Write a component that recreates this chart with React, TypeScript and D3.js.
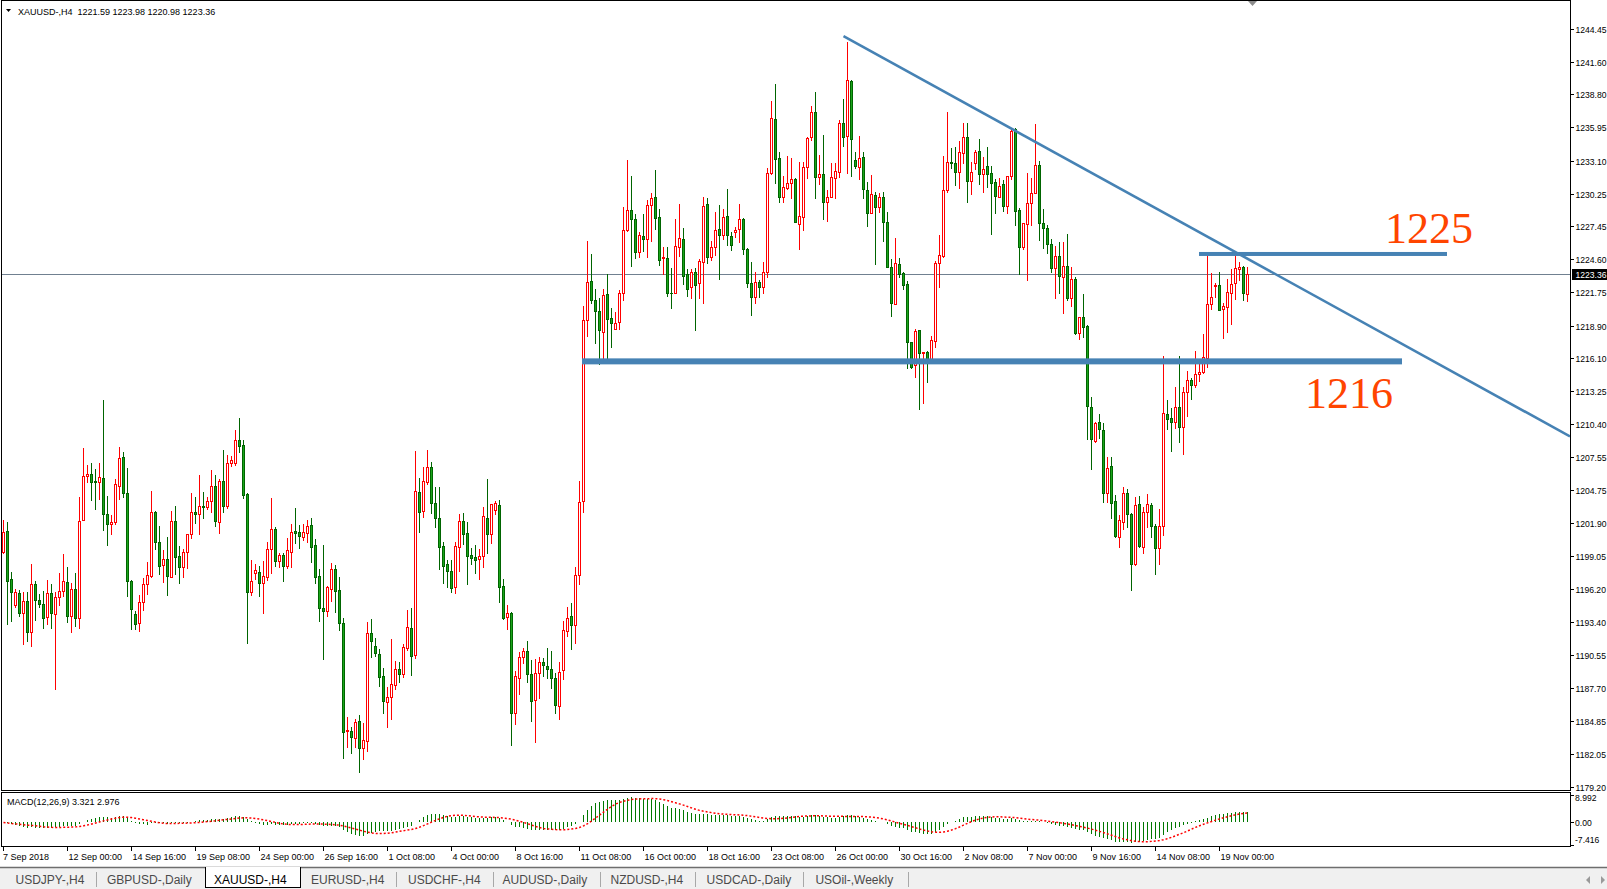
import React, { useEffect, useRef } from "react";
import * as d3 from "d3";

// XAUUSD H4 bars, 7 Sep 2018 08:00 .. 20 Nov 2018 04:00
const opens = [
  1199.45, 1201.23, 1197.07, 1194.86, 1195.87, 1194.2, 1195.21, 1192.57, 1196.67, 1195.29,
  1194.95, 1193.86, 1195.87, 1194.06, 1195.52, 1196.07, 1196.81, 1193.94, 1196.24, 1193.77,
  1202.15, 1205.99, 1206.1, 1205.53, 1205.42, 1205.76, 1202.69, 1201.8, 1201.97, 1205.13,
  1207.57, 1204.47, 1196.93, 1194.06, 1193.28, 1195.15, 1196.64, 1197.39, 1202.83, 1200.31,
  1198.3, 1198.79, 1197.3, 1202.09, 1199.08, 1198.16, 1199.39, 1200.94, 1202.83, 1202.69,
  1203.38, 1203.32, 1203.84, 1205.1, 1202.03, 1205.53, 1203.38, 1207.05, 1207.11, 1209.03,
  1208.63, 1204.41, 1196.01, 1197.64, 1197.73, 1196.78, 1197.3, 1199.65, 1201.37, 1198.68,
  1199.14, 1198.25, 1199.45, 1201.23, 1201.17, 1200.74, 1201.09, 1201.72, 1199.99, 1197.36,
  1194.58, 1194.38, 1196.27, 1197.93, 1196.15, 1193.34, 1184.02, 1184.02, 1183.39, 1184.88,
  1182.59, 1183.19, 1192.43, 1191.33, 1190.65, 1188.75, 1186.55, 1186.92, 1187.98, 1189.36,
  1188.9, 1191.13, 1192.86, 1190.56, 1204.61, 1202.98, 1205.47, 1206.71, 1203.61, 1202.32,
  1199.94, 1198.36, 1197.79, 1196.38, 1199.88, 1202.09, 1201.03, 1199.17, 1198.99, 1198.79,
  1199.08, 1202.32, 1200.94, 1203.01, 1203.47, 1196.5, 1193.8, 1194.17, 1185.6, 1188.56,
  1190.37, 1190.88, 1188.88, 1186.65, 1188.97, 1189.93, 1189.61, 1189.35, 1188.56, 1186.17,
  1189.29, 1192.63, 1193.87, 1193.11, 1197.41, 1203.84, 1219.37, 1222.71, 1221.12, 1220.13,
  1218.38, 1221.6, 1219.59, 1218.64, 1219.18, 1221.66, 1227.14, 1228.82, 1228.03, 1225.23,
  1226.6, 1226.37, 1229.24, 1229.94, 1228.25, 1224.68, 1224.68, 1221.72, 1221.66, 1225.7,
  1226.34, 1223.32, 1222.2, 1223.51, 1222.52, 1224.37, 1229.36, 1224.84, 1225.64, 1227.23,
  1226.66, 1228.34, 1226.6, 1226.98, 1227.17, 1228.09, 1225.48, 1222.52, 1221.34, 1222.62,
  1222.19, 1223.54, 1232.0, 1236.64, 1233.29, 1229.93, 1230.76, 1231.14, 1231.48, 1227.6,
  1228.27, 1232.57, 1235.15, 1237.3, 1231.71, 1231.94, 1229.56, 1229.99, 1231.57, 1232.14,
  1236.3, 1235.24, 1239.94, 1233.14, 1232.51, 1233.37, 1230.56, 1228.61, 1230.13, 1229.07,
  1229.93, 1227.78, 1223.97, 1220.75, 1224.17, 1223.39, 1222.45, 1217.5, 1215.51, 1218.52,
  1216.51, 1216.6, 1215.88, 1217.6, 1224.31, 1224.88, 1230.56, 1232.94, 1232.86, 1232.08,
  1233.72, 1235.1, 1231.37, 1232.86, 1233.92, 1231.91, 1232.63, 1231.99, 1231.28, 1229.99,
  1231.05, 1229.22, 1231.8, 1235.79, 1228.85, 1225.63, 1227.61, 1229.42, 1230.28, 1232.72,
  1227.7, 1227.27, 1225.89, 1223.88, 1224.92, 1223.11, 1224.03, 1221.25, 1222.88, 1218.23,
  1219.61, 1218.86, 1211.87, 1208.97, 1210.63, 1209.92, 1204.47, 1206.82, 1203.81, 1200.74,
  1201.97, 1204.47, 1202.66, 1198.36, 1203.52, 1199.82, 1202.89, 1203.46, 1201.66, 1199.73,
  1201.69, 1211.29, 1210.92, 1210.58, 1211.87, 1210.2, 1213.21, 1214.22, 1213.79, 1214.7,
  1214.88, 1216.08, 1220.73, 1222.31, 1222.39, 1220.3, 1220.53, 1221.73, 1222.54, 1223.74,
  1223.91, 1221.59,
];
const highs = [
  1202.17, 1201.97, 1197.67, 1196.24, 1196.15, 1195.95, 1195.95, 1198.39, 1196.93, 1195.81,
  1196.07, 1197.01, 1196.67, 1195.95, 1197.59, 1199.25, 1198.1, 1196.73, 1197.59, 1204.12,
  1208.34, 1206.91, 1207.05, 1206.56, 1207.05, 1212.5, 1204.24, 1202.6, 1205.7, 1208.48,
  1208.0, 1206.62, 1197.01, 1194.37, 1195.72, 1197.16, 1198.59, 1204.67, 1202.95, 1201.69,
  1199.59, 1200.74, 1202.95, 1203.41, 1199.97, 1199.65, 1200.94, 1204.53, 1204.18, 1206.05,
  1204.56, 1204.12, 1206.48, 1206.05, 1205.7, 1208.2, 1207.77, 1207.71, 1209.92, 1210.98,
  1209.06, 1204.47, 1198.73, 1198.39, 1198.22, 1198.65, 1200.25, 1204.04, 1201.6, 1199.31,
  1199.31, 1200.66, 1201.83, 1203.18, 1201.75, 1201.83, 1202.18, 1202.32, 1200.54, 1197.96,
  1200.03, 1196.53, 1198.51, 1198.31, 1197.3, 1193.77, 1185.2, 1184.39, 1185.03, 1185.4,
  1184.68, 1193.37, 1193.66, 1191.99, 1191.05, 1189.47, 1187.84, 1191.94, 1190.04, 1189.93,
  1191.48, 1194.43, 1194.63, 1208.11, 1205.82, 1206.77, 1208.2, 1207.17, 1204.99, 1204.99,
  1200.31, 1198.73, 1198.73, 1200.25, 1202.66, 1202.75, 1202.0, 1199.74, 1200.03, 1199.68,
  1203.27, 1205.7, 1203.55, 1203.81, 1203.9, 1197.1, 1194.86, 1194.29, 1189.2, 1190.85,
  1191.2, 1191.74, 1190.15, 1190.21, 1190.37, 1190.31, 1191.17, 1190.88, 1189.04, 1189.93,
  1193.49, 1194.7, 1194.99, 1198.11, 1205.52, 1220.55, 1226.18, 1225.07, 1222.04, 1221.25,
  1222.04, 1223.35, 1220.39, 1220.07, 1221.98, 1229.14, 1233.12, 1231.78, 1228.5, 1226.91,
  1228.5, 1229.68, 1230.32, 1232.32, 1228.92, 1225.64, 1225.64, 1223.89, 1228.03, 1229.36,
  1227.29, 1223.73, 1223.73, 1223.83, 1224.62, 1229.94, 1229.87, 1226.18, 1228.66, 1229.24,
  1228.92, 1230.67, 1226.91, 1227.39, 1229.36, 1228.19, 1225.58, 1224.37, 1223.51, 1222.82,
  1224.34, 1232.48, 1238.22, 1239.68, 1233.8, 1231.77, 1233.49, 1233.35, 1231.57, 1233.0,
  1232.94, 1235.15, 1237.82, 1239.02, 1233.57, 1235.3, 1230.56, 1232.91, 1232.86, 1236.59,
  1238.39, 1243.33, 1240.03, 1233.86, 1235.21, 1233.86, 1231.28, 1231.85, 1230.36, 1230.28,
  1230.36, 1228.7, 1224.6, 1226.4, 1224.68, 1223.48, 1222.76, 1217.5, 1218.6, 1218.52,
  1216.6, 1216.74, 1218.0, 1224.45, 1226.69, 1233.49, 1237.3, 1234.21, 1234.29, 1234.78,
  1236.3, 1236.3, 1233.0, 1234.01, 1234.95, 1233.37, 1234.29, 1232.6, 1231.48, 1231.57,
  1231.43, 1231.8, 1235.87, 1235.87, 1228.99, 1227.76, 1232.0, 1231.57, 1236.25, 1233.06,
  1228.93, 1227.56, 1226.35, 1225.78, 1226.06, 1226.12, 1226.75, 1223.97, 1223.05, 1219.67,
  1221.62, 1218.95, 1212.73, 1210.63, 1211.29, 1210.49, 1207.62, 1207.62, 1204.32, 1202.6,
  1205.04, 1204.84, 1202.75, 1204.18, 1204.27, 1203.32, 1204.38, 1203.61, 1201.8, 1203.12,
  1216.28, 1212.5, 1211.78, 1213.59, 1216.28, 1213.65, 1215.0, 1214.42, 1216.71, 1215.8,
  1218.18, 1225.2, 1223.4, 1222.59, 1223.48, 1220.87, 1222.91, 1223.77, 1225.06, 1224.34,
  1224.06, 1223.98,
];
const lows = [
  1199.31, 1193.23, 1193.51, 1194.72, 1193.94, 1191.51, 1191.79, 1191.36, 1193.57, 1194.72,
  1192.91, 1193.2, 1192.91, 1187.6, 1194.86, 1195.64, 1193.37, 1192.57, 1193.05, 1192.85,
  1202.15, 1205.47, 1203.9, 1203.12, 1203.98, 1201.31, 1200.02, 1200.97, 1201.83, 1203.98,
  1204.12, 1195.64, 1192.77, 1192.77, 1192.65, 1194.43, 1195.78, 1197.3, 1199.68, 1197.53,
  1196.87, 1195.72, 1197.3, 1197.53, 1196.78, 1197.3, 1198.07, 1200.66, 1201.95, 1200.97,
  1202.38, 1203.12, 1202.89, 1201.69, 1201.08, 1202.89, 1203.24, 1206.82, 1206.91, 1208.05,
  1204.04, 1191.62, 1195.72, 1197.07, 1195.66, 1194.2, 1197.01, 1197.65, 1198.22, 1198.16,
  1196.96, 1198.08, 1198.16, 1200.17, 1199.8, 1200.46, 1200.25, 1198.59, 1196.78, 1193.52,
  1190.22, 1193.95, 1195.21, 1194.29, 1192.71, 1181.67, 1182.67, 1182.16, 1182.67, 1180.52,
  1181.58, 1182.33, 1190.42, 1190.5, 1187.89, 1185.6, 1184.39, 1185.03, 1187.61, 1188.21,
  1188.64, 1190.99, 1188.84, 1190.27, 1201.17, 1202.46, 1205.27, 1202.75, 1201.6, 1197.93,
  1196.78, 1196.44, 1195.95, 1195.87, 1197.82, 1200.11, 1196.64, 1198.36, 1197.65, 1197.07,
  1198.1, 1199.37, 1200.17, 1202.66, 1195.15, 1193.66, 1192.77, 1182.82, 1184.6, 1187.22,
  1189.9, 1188.24, 1184.9, 1183.1, 1186.87, 1188.72, 1188.56, 1187.76, 1185.53, 1185.06,
  1188.46, 1192.22, 1191.11, 1191.58, 1196.67, 1202.82, 1218.0, 1220.87, 1217.43, 1215.61,
  1216.09, 1216.09, 1217.05, 1218.64, 1218.64, 1221.09, 1227.07, 1224.05, 1224.75, 1224.84,
  1225.32, 1224.84, 1226.21, 1227.23, 1224.11, 1223.32, 1221.44, 1220.45, 1221.66, 1224.91,
  1222.46, 1221.41, 1221.28, 1218.48, 1221.25, 1220.87, 1224.27, 1224.5, 1225.0, 1222.93,
  1226.37, 1225.8, 1225.38, 1226.5, 1226.05, 1225.1, 1222.2, 1219.85, 1220.87, 1221.39,
  1221.73, 1223.11, 1231.94, 1231.2, 1229.56, 1229.56, 1230.65, 1229.9, 1227.84, 1225.49,
  1227.12, 1231.62, 1234.87, 1229.9, 1231.05, 1228.07, 1227.92, 1229.93, 1229.9, 1231.71,
  1234.38, 1232.0, 1231.8, 1232.48, 1231.48, 1229.9, 1227.5, 1228.61, 1224.17, 1228.64,
  1226.2, 1223.91, 1219.75, 1220.75, 1223.05, 1222.05, 1215.28, 1215.28, 1214.5, 1211.72,
  1212.26, 1214.07, 1215.8, 1217.08, 1222.25, 1224.83, 1230.42, 1232.43, 1230.99, 1230.76,
  1232.86, 1229.56, 1230.19, 1232.34, 1231.08, 1230.42, 1230.85, 1226.75, 1228.61, 1229.93,
  1228.76, 1228.56, 1231.51, 1227.56, 1223.31, 1225.46, 1222.82, 1227.56, 1230.28, 1226.26,
  1225.6, 1225.12, 1223.48, 1221.3, 1221.73, 1219.95, 1221.1, 1220.62, 1218.18, 1217.72,
  1217.95, 1209.11, 1206.53, 1208.86, 1209.2, 1203.75, 1203.75, 1202.32, 1200.74, 1199.82,
  1201.37, 1201.6, 1196.15, 1198.3, 1199.82, 1199.31, 1201.6, 1200.74, 1197.5, 1198.36,
  1200.88, 1210.0, 1208.14, 1210.06, 1208.91, 1207.82, 1211.15, 1212.56, 1213.65, 1214.16,
  1214.8, 1215.37, 1220.33, 1221.39, 1220.24, 1217.86, 1218.38, 1219.01, 1221.16, 1222.82,
  1221.1, 1220.98,
];
const closes = [
  1201.17, 1196.95, 1195.95, 1195.95, 1194.2, 1195.21, 1192.57, 1196.67, 1195.29, 1194.92,
  1193.77, 1195.87, 1194.14, 1195.52, 1196.07, 1196.93, 1193.94, 1196.24, 1193.77, 1202.09,
  1205.99, 1206.1, 1205.47, 1205.42, 1205.85, 1202.69, 1201.8, 1201.97, 1205.24, 1207.48,
  1204.47, 1196.95, 1194.49, 1193.2, 1195.09, 1196.64, 1197.44, 1202.83, 1200.31, 1198.25,
  1198.79, 1197.39, 1202.09, 1199.02, 1198.16, 1199.39, 1200.94, 1202.83, 1202.69, 1203.38,
  1203.32, 1203.81, 1205.1, 1202.12, 1205.56, 1203.41, 1207.05, 1207.34, 1209.03, 1208.57,
  1204.33, 1196.01, 1196.93, 1197.87, 1196.73, 1197.39, 1199.65, 1201.37, 1198.68, 1199.14,
  1198.25, 1199.57, 1201.17, 1201.09, 1200.8, 1201.12, 1201.66, 1199.88, 1197.3, 1194.58,
  1194.38, 1196.44, 1197.93, 1196.1, 1193.29, 1183.96, 1184.08, 1183.48, 1184.77, 1182.53,
  1183.25, 1192.43, 1191.79, 1190.76, 1188.7, 1186.63, 1186.92, 1188.07, 1189.36, 1188.9,
  1191.22, 1192.94, 1190.5, 1204.67, 1202.89, 1205.53, 1206.71, 1203.61, 1202.32, 1199.82,
  1198.25, 1197.79, 1196.3, 1199.94, 1202.09, 1200.94, 1199.11, 1198.94, 1198.73, 1199.08,
  1202.52, 1200.94, 1203.52, 1203.61, 1196.44, 1193.77, 1194.15, 1185.54, 1188.75, 1190.37,
  1190.88, 1188.88, 1186.58, 1188.97, 1189.93, 1189.67, 1189.35, 1188.62, 1186.23, 1189.13,
  1192.7, 1193.75, 1193.17, 1197.41, 1203.68, 1219.37, 1222.62, 1221.12, 1220.13, 1218.48,
  1221.5, 1219.5, 1219.11, 1219.11, 1221.66, 1227.14, 1228.82, 1228.03, 1225.23, 1226.66,
  1226.37, 1229.24, 1229.87, 1228.19, 1224.52, 1224.78, 1221.66, 1221.66, 1225.74, 1226.44,
  1223.19, 1222.07, 1223.51, 1222.36, 1224.46, 1229.2, 1224.84, 1225.7, 1227.14, 1226.66,
  1228.25, 1226.66, 1225.8, 1227.14, 1228.09, 1225.48, 1222.52, 1221.34, 1222.62, 1222.19,
  1223.48, 1232.0, 1236.73, 1233.2, 1229.93, 1230.85, 1231.14, 1231.48, 1227.84, 1228.33,
  1232.57, 1235.07, 1237.3, 1231.71, 1231.94, 1229.56, 1229.99, 1231.65, 1232.2, 1236.3,
  1235.15, 1240.03, 1234.92, 1232.63, 1233.35, 1230.62, 1228.61, 1230.22, 1229.07, 1229.99,
  1227.78, 1223.97, 1220.87, 1224.25, 1223.31, 1222.39, 1217.5, 1215.36, 1218.43, 1216.51,
  1216.6, 1215.88, 1217.66, 1224.25, 1224.97, 1230.56, 1233.0, 1232.86, 1232.14, 1233.8,
  1235.1, 1231.37, 1232.08, 1233.8, 1231.91, 1232.34, 1231.91, 1231.2, 1230.08, 1230.91,
  1229.22, 1231.8, 1235.64, 1228.79, 1225.63, 1227.7, 1229.42, 1230.28, 1232.72, 1227.7,
  1227.27, 1225.89, 1223.88, 1224.89, 1223.2, 1224.03, 1221.3, 1222.88, 1218.29, 1219.61,
  1218.81, 1212.01, 1209.11, 1210.55, 1209.97, 1204.52, 1206.62, 1203.61, 1200.8, 1202.17,
  1204.47, 1202.66, 1198.36, 1203.46, 1199.96, 1202.83, 1203.52, 1201.69, 1199.73, 1201.66,
  1211.35, 1210.83, 1210.58, 1211.87, 1210.2, 1213.21, 1214.22, 1213.79, 1214.7, 1214.94,
  1216.17, 1220.73, 1221.33, 1222.39, 1220.24, 1220.59, 1221.76, 1222.48, 1223.83, 1223.91,
  1221.68, 1223.36,
];

const timeLabels = [
  "7 Sep 2018", "12 Sep 00:00", "14 Sep 16:00", "19 Sep 08:00", "24 Sep 00:00",
  "26 Sep 16:00", "1 Oct 08:00", "4 Oct 00:00", "8 Oct 16:00", "11 Oct 08:00",
  "16 Oct 00:00", "18 Oct 16:00", "23 Oct 08:00", "26 Oct 00:00", "30 Oct 16:00",
  "2 Nov 08:00", "7 Nov 00:00", "9 Nov 16:00", "14 Nov 08:00", "19 Nov 00:00",
];
const timeLabelBars = [0, 16, 32, 48, 64, 80, 96, 112, 128, 144, 160, 176, 192, 208, 224, 240, 256, 272, 288, 304];

const priceTicks = [
  1244.45, 1241.6, 1238.8, 1235.95, 1233.1, 1230.25, 1227.45, 1224.6, 1221.75, 1218.9, 1216.1, 1213.25,
  1210.4, 1207.55, 1204.75, 1201.9, 1199.05, 1196.2, 1193.4, 1190.55, 1187.7, 1184.85, 1182.05, 1179.2,
];
const macdTicks = [8.992, 0, -7.416];
const macdTickLabels = ["8.992", "0.00", "-7.416"];

const bidPrice = 1223.36;
const levels = [
  { price: 1215.82, label: "1216" },
  { price: 1225.06, label: "1225" },
];
const trendPoints = [
  { bar: 210, price: 1243.8 },
  { bar: 311, price: 1224.65 },
];

const headerText = "XAUUSD-,H4  1221.59 1223.98 1220.98 1223.36";
const macdCaption = "MACD(12,26,9) 3.321 2.976";
const tabNames = [
  "USDJPY-,H4", "GBPUSD-,Daily", "XAUUSD-,H4", "EURUSD-,H4", "USDCHF-,H4",
  "AUDUSD-,Daily", "NZDUSD-,H4", "USDCAD-,Daily", "USOil-,Weekly",
];
const activeTab = "XAUUSD-,H4";

const W = 1607;
const H = 889;
const RIGHT = 1570; // right edge of plot, price axis starts here
const FONT = "'Liberation Sans', Arial, sans-serif";

const emaOf = (vals: number[], n: number) => {
  const k = 2 / (n + 1);
  const out: number[] = [];
  vals.forEach((v, i) => out.push(i === 0 ? v : v * k + out[i - 1] * (1 - k)));
  return out;
};

const GoldChart = () => {
  const ref = useRef<SVGSVGElement>(null);

  useEffect(() => {
    document.body.style.margin = "0";
    document.body.style.overflow = "hidden";
    const svg = d3.select(ref.current);
    svg.selectAll("*").remove();

    const n = closes.length;
    const x = d3.scaleLinear().domain([0, n - 1]).range([3.5, 3.5 + 4 * (n - 1)]);
    const y = d3.scaleLinear().domain([1179.2, 1244.45]).range([787, 28.6]);
    const ym = d3.scaleLinear().domain([-7.416, 8.992]).range([845, 795]);

    svg.append("rect").attr("width", W).attr("height", H).attr("fill", "#ffffff");

    const defs = svg.append("defs");
    defs.append("clipPath").attr("id", "mainClip")
      .append("rect").attr("x", 2).attr("y", 1).attr("width", RIGHT - 2).attr("height", 789);
    defs.append("clipPath").attr("id", "macdClip")
      .append("rect").attr("x", 2).attr("y", 793).attr("width", RIGHT - 2).attr("height", 53);

    // ---------- main price window ----------
    const main = svg.append("g").attr("clip-path", "url(#mainClip)");

    // bid line
    const by = Math.round(y(bidPrice)) + 0.5;
    main.append("line").attr("x1", 2).attr("x2", RIGHT).attr("y1", by).attr("y2", by)
      .attr("stroke", "#708090").attr("stroke-width", 1);

    // candles
    const cg = main.append("g").attr("shape-rendering", "crispEdges");
    closes.forEach((c, i) => {
      const o = opens[i];
      const bull = c >= o;
      const px = Math.floor(x(i));
      const hi = Math.round(y(highs[i]));
      const lo = Math.round(y(lows[i]));
      const top = Math.round(y(Math.max(o, c)));
      const bot = Math.round(y(Math.min(o, c)));
      const edge = bull ? "#ff0000" : "#006400";
      cg.append("rect").attr("x", px).attr("y", hi).attr("width", 1).attr("height", lo - hi + 1).attr("fill", edge);
      cg.append("rect").attr("x", px - 1).attr("y", top).attr("width", 3).attr("height", bot - top + 1).attr("fill", edge);
      if (bot - top >= 2) {
        cg.append("rect").attr("x", px).attr("y", top + 1).attr("width", 1).attr("height", bot - top - 1)
          .attr("fill", bull ? "#ffffff" : "#1aa51a");
      }
    });

    // horizontal levels
    const lv = main.append("g");
    const lv1216 = levels[0];
    const lv1225 = levels[1];
    lv.append("rect").attr("x", x(145) - 1.5).attr("y", y(lv1216.price) - 3)
      .attr("width", x(350) - x(145)).attr("height", 6).attr("fill", "#4682b4");
    lv.append("rect").attr("x", x(299) - 0.5).attr("y", y(lv1225.price) - 2)
      .attr("width", x(361) - x(299)).attr("height", 4).attr("fill", "#4682b4");

    // trend line (ray to the right edge)
    const [ta, tb] = trendPoints;
    const slope = (y(tb.price) - y(ta.price)) / (x(tb.bar) - x(ta.bar));
    main.append("line")
      .attr("x1", x(ta.bar)).attr("y1", y(ta.price))
      .attr("x2", RIGHT).attr("y2", y(ta.price) + slope * (RIGHT - x(ta.bar)))
      .attr("stroke", "#4682b4").attr("stroke-width", 2.6);

    // level captions
    const capStyle = (t: d3.Selection<SVGTextElement, unknown, null, undefined>) =>
      t.attr("font-family", "'Liberation Serif', 'Times New Roman', serif").attr("font-size", 44).attr("fill", "#ff4500");
    capStyle(main.append("text").attr("x", x(345.4)).attr("y", y(1225.98)).text(lv1225.label));
    capStyle(main.append("text").attr("x", x(325.4)).attr("y", y(1211.78)).text(lv1216.label));

    // chart-shift marker
    svg.append("path").attr("d", "M1248,1 L1257,1 L1252.5,6 Z").attr("fill", "#8c8c8c");

    // header
    svg.append("path").attr("d", "M6,9 L11,9 L8.5,12 Z").attr("fill", "#000");
    svg.append("text").attr("x", 18).attr("y", 15).attr("font-family", FONT).attr("font-size", 9)
      .attr("fill", "#000").attr("xml:space", "preserve").style("white-space", "pre").text(headerText);

    // ---------- MACD window ----------
    const e12 = emaOf(closes, 12);
    const e26 = emaOf(closes, 26);
    const macd = closes.map((_, i) => e12[i] - e26[i]);
    const signal = macd.map((_, i) => d3.mean(macd.slice(Math.max(0, i - 8), i + 1)) as number);

    const mg = svg.append("g").attr("clip-path", "url(#macdClip)");
    const z = ym(0);
    mg.append("g").attr("shape-rendering", "crispEdges").selectAll("line").data(macd).enter().append("line")
      .attr("x1", (_, i) => Math.floor(x(i)) + 0.5).attr("x2", (_, i) => Math.floor(x(i)) + 0.5)
      .attr("y1", z).attr("y2", (d) => ym(d))
      .attr("stroke", "#007800").attr("stroke-width", 1);
    const sigLine = d3.line<number>().x((_, i) => x(i)).y((d) => ym(d));
    mg.append("path").attr("d", sigLine(signal)).attr("fill", "none")
      .attr("stroke", "#ff0000").attr("stroke-width", 1.5).attr("stroke-dasharray", "2,2");

    svg.append("text").attr("x", 7).attr("y", 805).attr("font-family", FONT).attr("font-size", 9)
      .attr("fill", "#000").text(macdCaption);

    // ---------- frames ----------
    const fr = svg.append("g").attr("fill", "none").attr("stroke", "#000").attr("shape-rendering", "crispEdges");
    fr.append("rect").attr("x", 1.5).attr("y", 0.5).attr("width", RIGHT - 1.5).attr("height", 790);
    fr.append("rect").attr("x", 1.5).attr("y", 792.5).attr("width", RIGHT - 1.5).attr("height", 54);

    // ---------- price axis ----------
    const pa = svg.append("g").attr("font-family", FONT).attr("font-size", 8.6).attr("fill", "#000");
    priceTicks.forEach((p) => {
      const ty = Math.round(y(p)) + 0.5;
      pa.append("line").attr("x1", RIGHT).attr("x2", RIGHT + 4).attr("y1", ty).attr("y2", ty)
        .attr("stroke", "#000").attr("shape-rendering", "crispEdges");
      pa.append("text").attr("x", RIGHT + 5.5).attr("y", ty + 3.3).text(p.toFixed(2));
    });
    pa.append("rect").attr("x", RIGHT + 2).attr("y", by - 5.5).attr("width", W - RIGHT - 2).attr("height", 11).attr("fill", "#000");
    pa.append("text").attr("x", RIGHT + 5.5).attr("y", by + 3.3).attr("fill", "#fff").text(bidPrice.toFixed(2));

    macdTicks.forEach((v, k) => {
      const ty = Math.round(ym(v)) + 0.5;
      const labelY = k === 0 ? ty + 5 : k === 2 ? ty - 3 : ty + 3.3;
      pa.append("line").attr("x1", RIGHT).attr("x2", RIGHT + 4).attr("y1", ty).attr("y2", ty)
        .attr("stroke", "#000").attr("shape-rendering", "crispEdges");
      pa.append("text").attr("x", RIGHT + 5).attr("y", labelY).text(macdTickLabels[k]);
    });

    // ---------- time axis ----------
    const ta2 = svg.append("g").attr("font-family", FONT).attr("font-size", 9).attr("fill", "#000");
    timeLabelBars.forEach((b, k) => {
      const tx = Math.floor(x(b)) + 0.5;
      ta2.append("line").attr("x1", tx).attr("x2", tx).attr("y1", 847).attr("y2", 851)
        .attr("stroke", "#000").attr("shape-rendering", "crispEdges");
      ta2.append("text").attr("x", k === 0 ? 3 : tx + 1).attr("y", 860).text(timeLabels[k]);
    });

    // ---------- symbol tabs ----------
    const tabs = svg.append("g");
    tabs.append("rect").attr("x", 0).attr("y", 867).attr("width", W).attr("height", H - 867).attr("fill", "#f0f0f0");
    tabs.append("line").attr("x1", 0).attr("x2", W).attr("y1", 867.5).attr("y2", 867.5)
      .attr("stroke", "#6e6e6e").attr("stroke-width", 1.5);
    const tabLeft = [15.5, 107, 214, 311, 408, 502.6, 610.5, 706.6, 815.4];
    const seps = [96.6, 396.7, 493, 600.7, 695.8, 803, 908];
    seps.forEach((sx) => {
      tabs.append("line").attr("x1", sx).attr("x2", sx).attr("y1", 872).attr("y2", 887)
        .attr("stroke", "#a8a8a8").attr("shape-rendering", "crispEdges");
    });
    tabs.append("path").attr("d", "M205.5,867 L205.5,887.5 L300.5,887.5 L300.5,867")
      .attr("fill", "#ffffff").attr("stroke", "#000").attr("shape-rendering", "crispEdges");
    tabNames.forEach((t, k) => {
      tabs.append("text").attr("x", tabLeft[k]).attr("y", 884).attr("font-family", FONT).attr("font-size", 12)
        .attr("fill", t === activeTab ? "#000" : "#4a4a4a").text(t);
    });
    tabs.append("path").attr("d", "M1590,876 L1590,884 L1586,880 Z").attr("fill", "#9a9a9a");
    tabs.append("path").attr("d", "M1601,876 L1601,884 L1605,880 Z").attr("fill", "#9a9a9a");
  }, []);

  return <svg ref={ref} width={W} height={H} style={{ display: "block" }} />;
};

export default function App() {
  return <GoldChart />;
}
